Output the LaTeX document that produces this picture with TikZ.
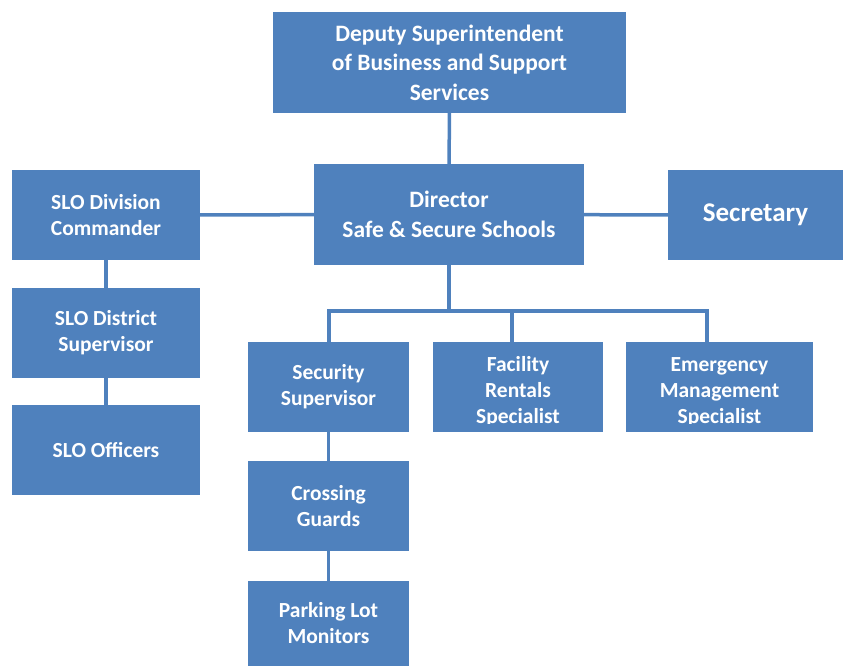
\documentclass[tikz,border=0pt]{standalone}
\usepackage{fontspec}
\setmainfont{Carlito}
\usepackage{xcolor}
\usetikzlibrary{positioning}
\definecolor{boxblue}{HTML}{4F81BD}

\begin{document}
\begin{tikzpicture}[
  x=1pt,y=-1pt,
  post/.style={fill=boxblue, draw=none, inner sep=0pt, text=white,
    align=center, font=\bfseries\fontsize{21.5}{26}\selectfont},
  bigpost/.style={post, font=\bfseries\fontsize{23.5}{29.5}\selectfont},
  link/.style={draw=boxblue, line width=3.5pt}
]
\useasboundingbox (0,0) rectangle (844,667);

\node[bigpost, minimum width=353pt, minimum height=101pt] (deputy) at (449.5,62.5)
  {Deputy Superintendent\\of Business and Support\\Services};
\node[bigpost, minimum width=270pt, minimum height=101pt] (director) at (449,214.5)
  {Director\\Safe \& Secure Schools};
\node[post, font=\bfseries\fontsize{27}{30}\selectfont,
  minimum width=175pt, minimum height=90pt] (secretary) at (755.5,215) {Secretary};

\node[post, minimum width=188pt, minimum height=90pt] (slodiv) at (106,215)
  {SLO Division\\Commander};
\node[post, minimum width=188pt, minimum height=90pt] (slodist) at (106,333)
  {SLO District\\Supervisor};
\node[post, minimum width=188pt, minimum height=90pt] (sloofficers) at (106,450)
  {SLO Officers};

\node[post, minimum width=161pt, minimum height=90pt] (security) at (328.5,387)
  {Security\\Supervisor};
\node[post, minimum width=170pt, minimum height=90pt] (facility) at (518,387) {};
\node[post, minimum width=187pt, minimum height=90pt] (emergency) at (719.5,387) {};
\node[post, minimum width=161pt, minimum height=90pt] (crossing) at (328.5,506)
  {Crossing\\Guards};
\node[post, minimum width=161pt, minimum height=85pt] (parking) at (328.5,623.5)
  {Parking Lot\\Monitors};

% texts that run past the bottom of their boxes
\begin{scope}
  \clip (facility.north west) rectangle ([yshift=9pt]facility.south east);
  \node[post, fill=none] (facilitytext) at (518,392) {Facility\\Rentals\\Specialist};
\end{scope}
\begin{scope}
  \clip (emergency.north west) rectangle ([yshift=9pt]emergency.south east);
  \node[post, fill=none] (emergencytext) at (719.5,392) {Emergency\\Management\\Specialist};
\end{scope}

% bus under the director
\coordinate (busmid) at (449,311);
\coordinate (busleft) at (329,311);
\coordinate (busfac) at (512,311);
\coordinate (busright) at (707,311);

\draw[link] (deputy) -- (director);
\draw[link] (director) -- (slodiv);
\draw[link] (director) -- (secretary);
\draw[link] (director) -- (busmid);
\draw[link] ([xshift=-1.75pt]busleft) -- ([xshift=1.75pt]busright);
\draw[link] (busleft) -- (busleft |- security.north);
\draw[link] (busfac) -- (busfac |- facility.north);
\draw[link] (busright) -- (busright |- emergency.north);
\draw[link] (slodiv) -- (slodist);
\draw[link] (slodist) -- (sloofficers);
\draw[link] (security) -- (crossing);
\draw[link] (crossing) -- (parking);
\end{tikzpicture}
\end{document}
